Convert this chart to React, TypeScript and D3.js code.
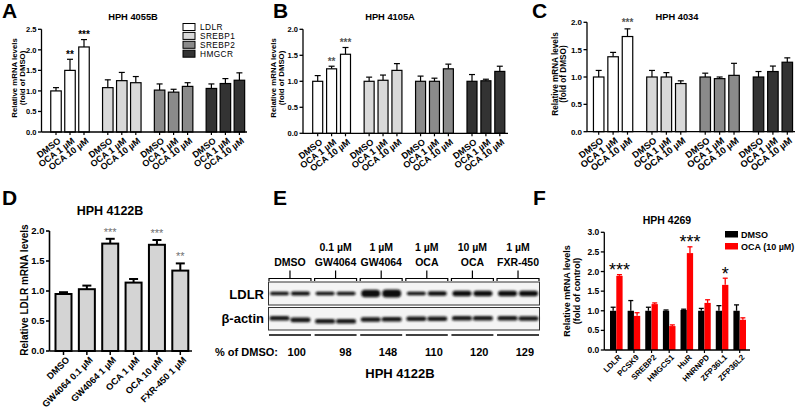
import React from 'react';
import * as d3 from 'd3';

const FONT = "'Liberation Sans', Arial, Helvetica, sans-serif";

// ---------- Panels A-C data ----------
const geneNames = ['LDLR', 'SREBP1', 'SREBP2', 'HMGCR'];
const treatmentLabels = ['DMSO', 'OCA 1 µM', 'OCA 10 µM'];
const geneFills = ['#ffffff', '#d9d9d9', '#8a8a8a', '#333333'];

const meanA = [[1.0, 1.5, 2.07], [1.08, 1.25, 1.2], [1.02, 0.97, 1.11], [1.06, 1.18, 1.26]];
const semA = [[0.08, 0.27, 0.18], [0.19, 0.2, 0.15], [0.15, 0.07, 0.09], [0.11, 0.12, 0.18]];
const starsA = [['', '**', '***'], ['', '', ''], ['', '', ''], ['', '', '']];

const meanB = [[1.0, 1.24, 1.52], [1.0, 1.02, 1.21], [1.0, 1.0, 1.24], [1.0, 1.01, 1.19]];
const semB = [[0.11, 0.05, 0.13], [0.08, 0.1, 0.13], [0.1, 0.06, 0.09], [0.13, 0.03, 0.1]];
const starsB = [['', '**', '***'], ['', '', ''], ['', '', ''], ['', '', '']];

const meanC = [[1.0, 1.37, 1.74], [1.0, 1.0, 0.88], [1.0, 0.97, 1.03], [1.0, 1.1, 1.27]];
const semC = [[0.12, 0.08, 0.14], [0.12, 0.08, 0.05], [0.07, 0.03, 0.22], [0.1, 0.1, 0.08]];
const starsC = [['', '', '***'], ['', '', ''], ['', '', ''], ['', '', '']];

// ---------- Panel D data ----------
const treatmentsD = ['DMSO', 'GW4064 0.1 µM', 'GW4064 1 µM', 'OCA 1 µM', 'OCA 10 µM', 'FXR-450 1 µM'];
const meanD = [0.95, 1.03, 1.79, 1.14, 1.77, 1.34];
const semD = [0.03, 0.06, 0.08, 0.06, 0.08, 0.12];
const starsD = ['', '', '***', '', '***', '**'];

// ---------- Panel E data ----------
const blotDose = ['', '0.1 µM', '1 µM', '1 µM', '10 µM', '1 µM'];
const blotDrug = ['DMSO', 'GW4064', 'GW4064', 'OCA', 'OCA', 'FXR-450'];
const pctOfDmso = [100, 98, 148, 110, 120, 129];
const ldlrBandThickness = [3.6, 4.2, 3.4, 3.6, 7.5, 7.8, 3.6, 4.6, 5.4, 5.6, 5.6, 5.6];
const actinBandShift = [0, 1.6, 3, 3, 1.2, 1, 0.4, 0.4, 0, 0, 0, 0.2];

// ---------- Panel F data ----------
const genesF = ['LDLR', 'PCSK9', 'SREBP2', 'HMGCS1', 'HuR', 'HNRNPD', 'ZFP36L1', 'ZFP36L2'];
const dmsoF = [1.0, 1.0, 1.0, 1.0, 1.02, 1.0, 1.0, 1.0];
const dmsoSemF = [0.09, 0.26, 0.09, 0.02, 0.02, 0.06, 0.13, 0.15];
const ocaF = [1.89, 0.87, 1.17, 0.61, 2.47, 1.2, 1.66, 0.77];
const ocaSemF = [0.03, 0.08, 0.03, 0.03, 0.16, 0.08, 0.17, 0.05];
const starsF = ['***', '', '', '', '***', '', '*', ''];
const seriesF = ['DMSO', 'OCA (10 µM)'];
const colorsF = ['#000000', '#ff0000'];

const GROUP_GAP = 0.7;
const fmt = d3.format('.1f');

function YAxis({ x, scale, max, fontSize, sw = 1.3 }: any) {
  const ticks = d3.range(0, max + 1e-9, 0.5);
  return (
    <g>
      <line x1={x} x2={x} y1={scale(max)} y2={scale(0)} stroke="#000" strokeWidth={sw} />
      {ticks.map((t: number) => (
        <g key={t}>
          <line x1={x - 3.5} x2={x} y1={scale(t)} y2={scale(t)} stroke="#000" strokeWidth={sw} />
          <text x={x - 5} y={scale(t)} dy="0.36em" textAnchor="end" fontSize={fontSize} fontWeight="bold">
            {fmt(t)}
          </text>
        </g>
      ))}
    </g>
  );
}

function YLabel({ x, y, lines, size, gap }: any) {
  return (
    <g>
      {lines.map((l: string, i: number) => (
        <text key={i} transform={`translate(${x + i * gap},${y}) rotate(-90)`} textAnchor="middle" dy="0.36em"
          fontSize={size} fontWeight="bold">{l}</text>
      ))}
    </g>
  );
}

function XLabel({ x, y, text, size, angle }: any) {
  return (
    <text transform={`translate(${x},${y}) rotate(${-angle})`} textAnchor="end" dy="0.7em" fontSize={size}
      fontWeight="bold">{text}</text>
  );
}

function GroupedPanel({ means, sems, stars, cfg }: any) {
  const y = d3.scaleLinear().domain([0, cfg.yMax]).range([cfg.y0, cfg.yTop]);
  const nG = means.length;
  const nT = means[0].length;
  const slot = (g: number, i: number) => g * (nT + GROUP_GAP) + i;
  const x = d3.scaleLinear().domain([0, slot(nG - 1, nT - 1)]).range([cfg.xFirst, cfg.xLast]);
  return (
    <g>
      <text x={cfg.letterX} y={18} fontSize={21} fontWeight="bold">{cfg.letter}</text>
      <text x={cfg.titleX} y={19.5} textAnchor="middle" fontSize={9.3} fontWeight="bold">{cfg.title}</text>
      <YLabel x={cfg.ylabX} y={cfg.ylabY} lines={['Relative mRNA levels', '(fold of DMSO)']} size={cfg.ylabSize} gap={8.5} />
      {means.map((row: number[], g: number) =>
        row.map((m: number, i: number) => {
          const cx = x(slot(g, i));
          const top = y(m);
          const cap = y(m + sems[g][i]);
          return (
            <g key={`${g}-${i}`}>
              <line x1={cx} x2={cx} y1={top} y2={cap} stroke="#000" strokeWidth={1.2} />
              <line x1={cx - 3} x2={cx + 3} y1={cap} y2={cap} stroke="#000" strokeWidth={1.2} />
              <rect x={cx - cfg.barW / 2} y={top} width={cfg.barW} height={cfg.y0 - top} fill={geneFills[g]}
                stroke="#000" strokeWidth={1.2} />
              <line x1={cx} x2={cx} y1={cfg.y0} y2={cfg.y0 + 3} stroke="#000" strokeWidth={1.2} />
              <XLabel x={cx + 1.5} y={cfg.y0 + 5} text={treatmentLabels[i]} size={cfg.xlabSize} angle={37} />
              {stars[g][i] && (
                <text x={cx} y={cap - cfg.starOff} textAnchor="middle" fontSize={cfg.starSize} fill={cfg.starColor}
                  fontWeight="bold">{stars[g][i]}</text>
              )}
            </g>
          );
        })
      )}
      <YAxis x={cfg.yAxisX} scale={y} max={cfg.yMax} fontSize={cfg.tickSize} />
      <line x1={cfg.yAxisX} x2={cfg.xEnd} y1={cfg.y0} y2={cfg.y0} stroke="#000" strokeWidth={1.3} />
      {cfg.legend && (
        <g>
          {geneNames.map((n, g) => (
            <g key={n}>
              <rect x={183} y={23.5 + g * 8.9} width={12} height={7} fill={geneFills[g]} stroke="#000" strokeWidth={1} />
              <text x={200} y={27 + g * 8.9} dy="0.36em" fontSize={8.3} letterSpacing={0.4}>{n}</text>
            </g>
          ))}
        </g>
      )}
    </g>
  );
}

function PanelD() {
  const y = d3.scaleLinear().domain([0, 2]).range([351, 231]);
  const x = d3.scalePoint().domain(treatmentsD).range([63.5, 180.3]);
  const bw = 16;
  const ax = 49.5;
  return (
    <g>
      <text x={2} y={205} fontSize={21} fontWeight="bold">D</text>
      <text x={110} y={214.5} textAnchor="middle" fontSize={12.5} fontWeight="bold">HPH 4122B</text>
      <YLabel x={24} y={290} lines={['Relative LDLR mRNA levels']} size={10} gap={0} />
      {treatmentsD.map((t, i) => {
        const cx = x(t) as number;
        const top = y(meanD[i]);
        const cap = y(meanD[i] + semD[i]);
        return (
          <g key={t}>
            <line x1={cx} x2={cx} y1={top} y2={cap} stroke="#000" strokeWidth={2} />
            <line x1={cx - 4.5} x2={cx + 4.5} y1={cap} y2={cap} stroke="#000" strokeWidth={2} />
            <rect x={cx - bw / 2} y={top} width={bw} height={351 - top} fill="#d4d4d4" stroke="#000" strokeWidth={2} />
            <line x1={cx} x2={cx} y1={351} y2={355} stroke="#000" strokeWidth={1.5} />
            <XLabel x={cx + 2} y={356} text={t} size={9.2} angle={45} />
            {starsD[i] && (
              <text x={cx} y={cap - 3} textAnchor="middle" fontSize={11} fill="#707070">{starsD[i]}</text>
            )}
          </g>
        );
      })}
      <YAxis x={ax} scale={y} max={2} fontSize={9.5} sw={1.6} />
      <line x1={ax} x2={192} y1={351} y2={351} stroke="#000" strokeWidth={1.6} />
    </g>
  );
}

function PanelE() {
  const groups = d3.scaleBand<number>().domain(d3.range(6)).range([269, 539]).paddingInner(0.08).paddingOuter(0.0);
  const laneX = (lane: number) => {
    const g = Math.floor(lane / 2);
    const c = (groups(g) as number) + groups.bandwidth() / 2;
    return c + (lane % 2 === 0 ? -10.5 : 10.5);
  };
  const lanes = d3.range(12);
  return (
    <g>
      <defs>
        <filter id="blur" x="-20%" y="-80%" width="140%" height="260%">
          <feGaussianBlur stdDeviation="0.9" />
        </filter>
      </defs>
      <text x={273} y={205} fontSize={21} fontWeight="bold">E</text>
      {d3.range(6).map((g) => {
        const x0 = groups(g) as number;
        const x1 = x0 + groups.bandwidth();
        const c = (x0 + x1) / 2;
        return (
          <g key={g}>
            <text x={c} y={250.5} textAnchor="middle" fontSize={10.5} fontWeight="bold">{blotDose[g]}</text>
            <text x={c} y={265.5} textAnchor="middle" fontSize={10.5} fontWeight="bold">{blotDrug[g]}</text>
            <path d={`M${x0},281 L${x0},278.5 L${x1},278.5 L${x1},281 M${c},278.5 L${c},270.5`} fill="none" stroke="#000" strokeWidth={1.2} />
            <line x1={x0} x2={x1} y1={335} y2={335} stroke="#000" strokeWidth={1.3} />
            <text x={c + 16} y={355.5} textAnchor="end" fontSize={11} fontWeight="bold">{pctOfDmso[g]}</text>
          </g>
        );
      })}
      <rect x={268.5} y={282} width={271} height={23} fill="#f4f4f4" stroke="#333" strokeWidth={1} />
      <rect x={268.5} y={307.5} width={271} height={22.5} fill="#f4f4f4" stroke="#333" strokeWidth={1} />
      <g filter="url(#blur)">
        {lanes.map((l) => {
          const h = ldlrBandThickness[l];
          return <rect key={'l' + l} x={laneX(l) - 9.5} y={293.5 - h / 2} width={19} height={h} rx={h / 2} fill="#111" />;
        })}
        {lanes.map((l) => (
          <rect key={'a' + l} x={laneX(l) - 10} y={318.3 + actinBandShift[l] - 2.3} width={20} height={4.6} rx={2.2} fill="#161616" />
        ))}
      </g>
      <text x={264} y={298.5} textAnchor="end" fontSize={13} fontWeight="bold">LDLR</text>
      <text x={264} y={323} textAnchor="end" fontSize={13} fontWeight="bold">β-actin</text>
      <text x={215} y={355.5} fontSize={11} fontWeight="bold">% of DMSO:</text>
      <text x={400} y={378} textAnchor="middle" fontSize={13} fontWeight="bold">HPH 4122B</text>
    </g>
  );
}

function PanelF() {
  const y = d3.scaleLinear().domain([0, 3]).range([350, 232.3]);
  const x = d3.scalePoint().domain(genesF).range([616.3, 739.7]);
  const bw = 6.3;
  const series = [
    { mean: dmsoF, sem: dmsoSemF },
    { mean: ocaF, sem: ocaSemF },
  ];
  return (
    <g>
      <text x={533} y={205} fontSize={21} fontWeight="bold">F</text>
      <text x={667} y={224} textAnchor="middle" fontSize={10.5} fontWeight="bold">HPH 4269</text>
      <YLabel x={567} y={291} lines={['Relative mRNA levels', '(fold of control)']} size={9} gap={10} />
      {genesF.map((gname, i) => {
        const cx = x(gname) as number;
        return (
          <g key={gname}>
            {series.map((s, k) => {
              const bx = cx + (k === 0 ? -bw : 0);
              const top = y(s.mean[i]);
              const cap = y(s.mean[i] + s.sem[i]);
              const mid = bx + bw / 2;
              return (
                <g key={k}>
                  <line x1={mid} x2={mid} y1={top} y2={cap} stroke={colorsF[k]} strokeWidth={1.3} />
                  <line x1={mid - 2.5} x2={mid + 2.5} y1={cap} y2={cap} stroke={colorsF[k]} strokeWidth={1.3} />
                  <rect x={bx} y={top} width={bw} height={350 - top} fill={colorsF[k]} />
                </g>
              );
            })}
            <line x1={cx} x2={cx} y1={350} y2={353} stroke="#000" strokeWidth={1.2} />
            <XLabel x={cx + 1.5} y={354} text={gname} size={8} angle={45} />
            {starsF[i] && (
              <text x={cx + bw / 2} y={y(ocaF[i] + ocaSemF[i]) + 1.5} textAnchor="middle" fontSize={18}>{starsF[i]}</text>
            )}
          </g>
        );
      })}
      <YAxis x={604.3} scale={y} max={3} fontSize={8.5} />
      <line x1={604.3} x2={750} y1={350} y2={350} stroke="#000" strokeWidth={1.3} />
      {seriesF.map((s, k) => (
        <g key={s}>
          <rect x={725} y={231 + k * 12} width={13} height={6.5} fill={colorsF[k]} />
          <text x={741} y={234.3 + k * 12} dy="0.36em" fontSize={9} fontWeight="bold">{s}</text>
        </g>
      ))}
    </g>
  );
}

const cfgA = {
  letter: 'A', letterX: 2, title: 'HPH 4055B', titleX: 133, yMax: 2.5, yAxisX: 41.5, xEnd: 247, y0: 132, yTop: 29.3,
  xFirst: 56, xLast: 239.4, barW: 10.5, ylabX: 14, ylabY: 78, ylabSize: 7.8, tickSize: 7.5, xlabSize: 9,
  starSize: 10, starColor: '#000', starOff: 1.5, legend: true,
};
const cfgB = {
  letter: 'B', letterX: 273, title: 'HPH 4105A', titleX: 390, yMax: 2, yAxisX: 303, xEnd: 508, y0: 133.3, yTop: 29.3,
  xFirst: 317.7, xLast: 499.8, barW: 10, ylabX: 273, ylabY: 78, ylabSize: 7.8, tickSize: 7.5, xlabSize: 9,
  starSize: 10, starColor: '#555', starOff: 1.7, legend: false,
};
const cfgC = {
  letter: 'C', letterX: 532, title: 'HPH 4034', titleX: 677, yMax: 2, yAxisX: 587, xEnd: 795, y0: 131.7, yTop: 22.3,
  xFirst: 598.7, xLast: 787.3, barW: 10.5, ylabX: 555, ylabY: 74, ylabSize: 8.2, tickSize: 8, xlabSize: 9.3,
  starSize: 10, starColor: '#555', starOff: 3, legend: false,
};

export default function App() {
  return (
    <svg width={800} height={412} style={{ position: 'absolute', left: 0, top: 0, background: '#fff' }}
      fontFamily={FONT}>
      <rect x={0} y={0} width={800} height={412} fill="#fff" />
      <GroupedPanel means={meanA} sems={semA} stars={starsA} cfg={cfgA} />
      <GroupedPanel means={meanB} sems={semB} stars={starsB} cfg={cfgB} />
      <GroupedPanel means={meanC} sems={semC} stars={starsC} cfg={cfgC} />
      <PanelD />
      <PanelE />
      <PanelF />
    </svg>
  );
}
